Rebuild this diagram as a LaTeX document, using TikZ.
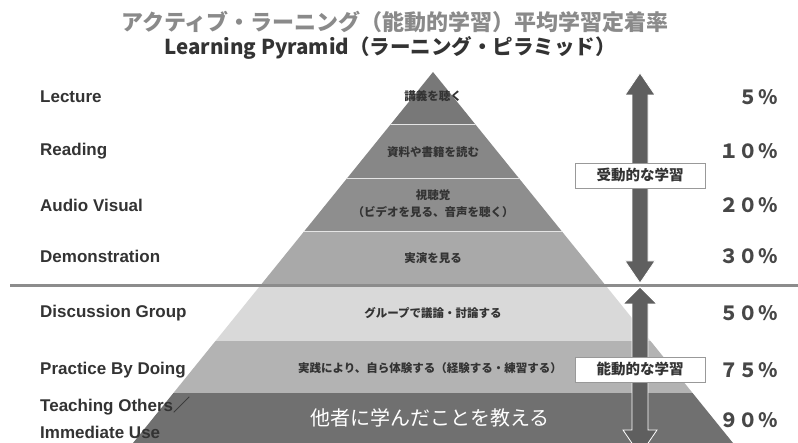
\documentclass[tikz,border=0pt]{standalone}
\usepackage{fontspec}
\setmainfont{Liberation Sans}
\newfontfamily\jp{Noto Sans CJK JP}
\definecolor{titlegray}{HTML}{8A8A8A}
\definecolor{txt}{HTML}{333333}
\definecolor{bLecture}{HTML}{787878}
\definecolor{bReading}{HTML}{878787}
\definecolor{bAudio}{HTML}{8E8E8E}
\definecolor{bDemo}{HTML}{A9A9A9}
\definecolor{bDisc}{HTML}{D9D9D9}
\definecolor{bPract}{HTML}{B3B3B3}
\definecolor{bTeach}{HTML}{707070}
\definecolor{arrowgray}{HTML}{5F5F5F}
\definecolor{sepgray}{HTML}{8C8C8C}
\tikzset{
  lefttext/.style={anchor=west, inner sep=0pt, text=txt, font=\fontsize{17}{19}\selectfont\bfseries},
  pcttext/.style={anchor=east, inner sep=0pt, text=txt!90!white, font=\jp\fontsize{19.5}{22}\selectfont\bfseries},
  pyrtext/.style={inner sep=0pt, text=txt, font=\jp\fontsize{11.5}{17}\selectfont\bfseries, align=center},
  modebox/.style={draw=black!40, fill=white, line width=0.8pt, minimum width=130pt, minimum height=25pt, inner sep=0pt, text=txt, font=\jp\fontsize{14.5}{17}\selectfont\bfseries},
  bigarrow/.style={fill=arrowgray, draw=white, line width=0.8pt},
}
\begin{document}
\begin{tikzpicture}[x=1pt,y=-1pt]
\useasboundingbox (0,0) rectangle (798,443);
\fill[white] (0,0) rectangle (798,443);
\clip (0,0) rectangle (798,443);

% pyramid bands
\begin{scope}
  \clip (433,72) -- (133,443) -- (733,443) -- cycle;
  \fill[bLecture] (0,60) rectangle (798,125);
  \fill[bReading] (0,125) rectangle (798,179);
  \fill[bAudio] (0,179) rectangle (798,232);
  \fill[bDemo] (0,232) rectangle (798,286);
  \fill[bDisc] (0,286) rectangle (798,341);
  \fill[bPract] (0,341) rectangle (798,393);
  \fill[bTeach] (0,393) rectangle (798,450);
  \draw[white!80!gray, line width=1pt] (0,125) -- (798,125) (0,179) -- (798,179) (0,232) -- (798,232);
\end{scope}

% separator
\draw[sepgray, line width=3pt] (10,286) -- (798,286);

% arrows
\filldraw[bigarrow] (640,73) -- (655,95) -- (648,95) -- (648,261) -- (655,261) -- (640,283)
  -- (625,261) -- (632,261) -- (632,95) -- (625,95) -- cycle;
\filldraw[bigarrow] (640,287) -- (657,304) -- (648,304) -- (648,430) -- (657,430) -- (640,455)
  -- (623,430) -- (632,430) -- (632,304) -- (623,304) -- cycle;

% title
\node[inner sep=0pt, text=titlegray, font=\jp\fontsize{22}{26}\selectfont\bfseries] (title) at (395,22)
  {アクティブ・ラーニング（能動的学習）平均学習定着率};
\node[inner sep=0pt, text=txt, font=\jp\fontsize{20.5}{24}\selectfont\bfseries] (subtitle) at (390,48)
  {Learning Pyramid（ラーニング・ピラミッド）};

% left labels
\node[lefttext] (lLecture) at (40,97) {Lecture};
\node[lefttext] (lReading) at (40,151) {Reading};
\node[lefttext] (lAudio) at (40,205) {Audio Visual};
\node[lefttext] (lDemo) at (40,256) {Demonstration};
\node[lefttext] (lDisc) at (40,313) {Discussion Group};
\node[lefttext] (lPract) at (40,370) {Practice By Doing};
\node[lefttext] (lTeach1) at (40,406) {Teaching Others{\jp／}};
\node[lefttext] (lTeach2) at (40,432) {Immediate Use};

% pyramid texts
\node[pyrtext] (tLecture) at (433,96) {講義を聴く};
\node[pyrtext] (tReading) at (433,152) {資料や書籍を読む};
\node[pyrtext] (tAudio) at (433,204) {視聴覚\\（ビデオを見る、音声を聴く）};
\node[pyrtext] (tDemo) at (433,258) {実演を見る};
\node[pyrtext] (tDisc) at (433,313) {グループで議論・討論する};
\node[pyrtext] (tPract) at (430,368) {実践により、自ら体験する（経験する・練習する）};
\node[inner sep=0pt, text=white, font=\jp\fontsize{20}{22}\selectfont] (tTeach) at (430,418) {他者に学んだことを教える};

% percentages
\node[pcttext] (p5) at (778,97) {５％};
\node[pcttext] (p10) at (778,151) {１０％};
\node[pcttext] (p20) at (778,205) {２０％};
\node[pcttext] (p30) at (778,256) {３０％};
\node[pcttext] (p50) at (778,313) {５０％};
\node[pcttext] (p75) at (778,370) {７５％};
\node[pcttext] (p90) at (778,420) {９０％};

% mode boxes
\node[modebox] (passive) at (640,175.5) {受動的な学習};
\node[modebox] (active) at (640,369.5) {能動的な学習};
\end{tikzpicture}
\end{document}
